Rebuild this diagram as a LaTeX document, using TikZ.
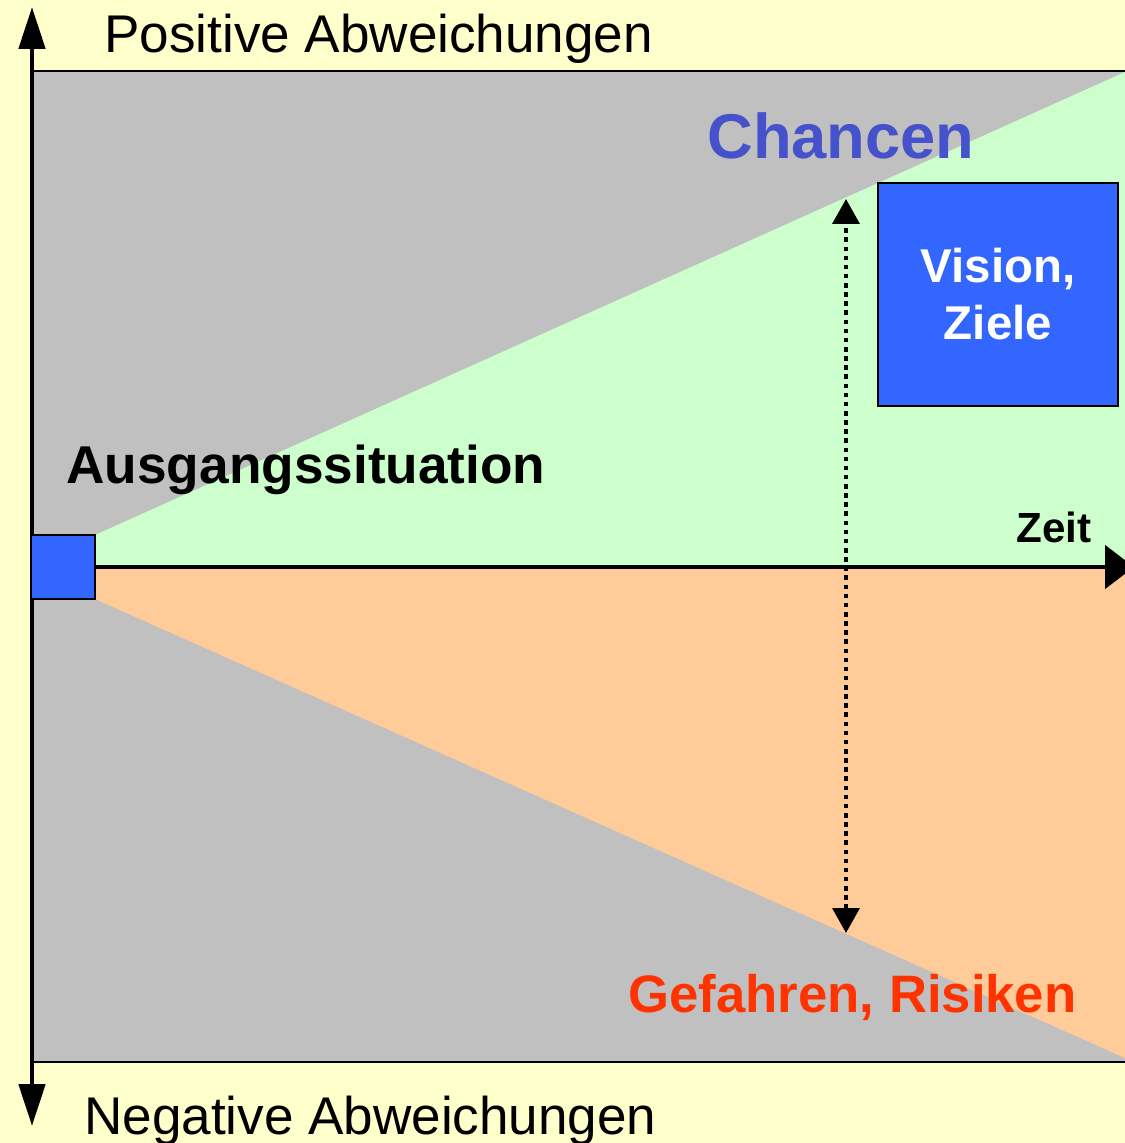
\documentclass[tikz,border=0pt]{standalone}
\usepackage{fontspec}
\setmainfont{Liberation Sans}
\usetikzlibrary{arrows.meta,positioning}
\definecolor{cBack}{HTML}{FFFFCC}
\definecolor{cGray}{HTML}{C0C0C0}
\definecolor{cGreen}{HTML}{CCFFCC}
\definecolor{cPeach}{HTML}{FFCC99}
\definecolor{cBox}{HTML}{3366FF}
\definecolor{cChance}{HTML}{4651CC}
\definecolor{cRisk}{HTML}{FF3300}

\begin{document}
\begin{tikzpicture}[x=.02cm,y=-.02cm,
  axis/.style={line width=2.8pt},
  vtip/.style={-{Triangle[length=.84cm,width=.52cm]}},
  span/.style={line width=2pt,dash pattern=on 2.6pt off 2.6pt,
    {Triangle[length=.5cm,width=.54cm]}-{Triangle[length=.5cm,width=.54cm]}},
  box/.style={draw=black,line width=1pt,fill=cBox,inner sep=0pt},
  lbl/.style={inner sep=0pt,anchor=base west}]
\path[use as bounding box,fill=cBack] (0,0) rectangle (1125,1143);
% corridor
\draw[fill=cGray,line width=1pt] (32,71) rectangle (1135,1062);
\coordinate (sqne) at (95,535);
\coordinate (sqse) at (95,599);
\coordinate (sqe) at (95,567);
\coordinate (topr) at (1125,72);
\coordinate (botr) at (1125,1058);
\coordinate (endr) at (1125,567);
\fill[cGreen] (sqne) -- (topr) -- (endr) -- (sqe) -- cycle;
\fill[cPeach] (sqse) -- (botr) -- (endr) -- (sqe) -- cycle;
% axes
\coordinate (ytop) at (32,7);
\coordinate (ybot) at (32,1126);
\coordinate (ymid) at (32,567);
\coordinate (xend) at (1134,567);
\draw[axis,vtip] (ymid) -- (ytop);
\draw[axis,vtip] (ymid) -- (ybot);
\node[box,minimum width=1.28cm,minimum height=1.28cm] (sq) at (63,567) {};
\draw[axis,-{Triangle[length=.58cm,width=.86cm]}] (sq.east) -- (xend);
% range between the two edges
\coordinate (hi) at (846,199);
\coordinate (lo) at (846,933);
\draw[span] (lo) -- (hi);
\node[box,minimum width=4.8cm,minimum height=4.46cm,text=white,align=center,
  font=\fontsize{27}{32.4}\selectfont\bfseries] (vision) at (998,294.5) {Vision,\\Ziele};
% texts
\node[lbl,font=\fontsize{30.2}{35}\selectfont] (pos) at (104,52) {Positive Abweichungen};
\node[lbl,font=\fontsize{30.2}{35}\selectfont] (neg) at (84,1134) {Negative Abweichungen};
\node[lbl,text=cChance,font=\fontsize{36}{42}\selectfont\bfseries] (chance) at (707,158) {Chancen};
\node[lbl,font=\fontsize{30.3}{36}\selectfont\bfseries] (ausg) at (66,483) {Ausgangssituation};
\node[lbl,font=\fontsize{24}{28}\selectfont\bfseries] (zeit) at (1016,542) {Zeit};
\node[lbl,text=cRisk,font=\fontsize{30}{36}\selectfont\bfseries] (risk) at (628,1012) {Gefahren, Risiken};
\end{tikzpicture}
\end{document}
